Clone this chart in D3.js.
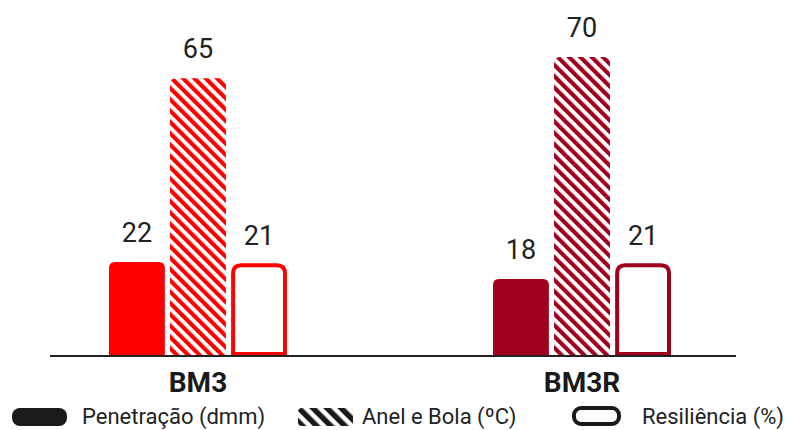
<!DOCTYPE html>
<html><head><meta charset="utf-8">
<script src="https://cdn.jsdelivr.net/npm/d3@7"></script>
<style>html,body{margin:0;padding:0;background:#fff;}svg{display:block;}</style>
</head><body>
<svg id="chart" width="788" height="430"></svg>
<script>
const categories = ["BM3", "BM3R"];
const seriesNames = ["Penetração (dmm)", "Anel e Bola (ºC)", "Resiliência (%)"];
const penetracao = [22, 18];
const anelBola = [65, 70];
const resiliencia = [21, 21];
const groupColors = ["#ff0000", "#a0001e"];

const svg = d3.select("#chart");
const baseY = 356;
const font = "Roboto, 'Noto Sans', sans-serif";

const x0 = d3.scaleBand().domain(categories).range([50, 730]).paddingInner(0.5365).paddingOuter(0.1536);
const x1 = d3.scaleBand().domain([0,1,2]).range([0, x0.bandwidth()]).paddingInner(0.085);
const y = d3.scaleLinear().domain([0, 70]).range([baseY, 57]);

const defs = svg.append("defs");
function hatch(id, color, period, frac) {
  const p = defs.append("pattern").attr("id", id).attr("patternUnits", "userSpaceOnUse")
    .attr("width", period).attr("height", period).attr("patternTransform", "rotate(-45)");
  p.append("rect").attr("width", period).attr("height", period).attr("fill", "#fff");
  p.append("rect").attr("width", period * frac).attr("height", period).attr("fill", color);
}
groupColors.forEach((c, i) => hatch("hatch" + i, c, 8, 0.52));
hatch("hatchLegend", "#1a1a1a", 10, 0.55);

function topRounded(x, yTop, w, h, r) {
  r = Math.min(r, w / 2, h);
  return `M${x},${yTop + h}V${yTop + r}Q${x},${yTop} ${x + r},${yTop}H${x + w - r}Q${x + w},${yTop} ${x + w},${yTop + r}V${yTop + h}Z`;
}

const series = [penetracao, anelBola, resiliencia];
categories.forEach((cat, ci) => {
  const g = svg.append("g");
  const color = groupColors[ci];
  series.forEach((vals, si) => {
    const v = vals[ci];
    const bx = x0(cat) + x1(si);
    const bw = x1.bandwidth();
    const top = y(v);
    if (si === 0) {
      g.append("path").attr("d", topRounded(bx, top, bw, baseY - top, 6)).attr("fill", color);
    } else if (si === 1) {
      g.append("path").attr("d", topRounded(bx, top, bw, baseY - top, 6)).attr("fill", `url(#hatch${ci})`);
    } else {
      const sw = 4;
      g.append("path").attr("d", topRounded(bx + sw / 2, top - 3 + sw / 2, bw - sw, baseY - top + 3 - sw, 8))
        .attr("fill", "#fff").attr("stroke", color).attr("stroke-width", sw);
    }
    g.append("text").attr("x", bx + bw / 2).attr("y", top - (si === 2 ? 21 : 20))
      .attr("text-anchor", "middle").attr("font-family", font).attr("font-size", 27)
      .attr("fill", "#222").text(v);
  });
});

// baseline
svg.append("line").attr("x1", 50).attr("x2", 736).attr("y1", baseY).attr("y2", baseY)
  .attr("stroke", "#222").attr("stroke-width", 1.8);

// category labels
svg.selectAll(".cat").data(categories).join("text")
  .attr("x", d => x0(d) + x0.bandwidth() / 2).attr("y", 392)
  .attr("text-anchor", "middle").attr("font-family", font).attr("font-weight", "bold")
  .attr("font-size", 28).attr("fill", "#1a1a1a").text(d => d);

// legend
const legendX = [12, 298, 572];
const legendTextX = [82, 362, 642];
const lg = svg.append("g");
lg.append("rect").attr("x", legendX[0]).attr("y", 408).attr("width", 55).attr("height", 18).attr("rx", 8).attr("fill", "#1a1a1a");
lg.append("rect").attr("x", legendX[1]).attr("y", 408).attr("width", 55).attr("height", 18).attr("rx", 4).attr("fill", "url(#hatchLegend)");
lg.append("rect").attr("x", legendX[2] + 2).attr("y", 408).attr("width", 45).attr("height", 16).attr("rx", 7)
  .attr("fill", "#fff").attr("stroke", "#1a1a1a").attr("stroke-width", 4);
seriesNames.forEach((n, i) => {
  lg.append("text").attr("x", legendTextX[i]).attr("y", 424).attr("font-family", font)
    .attr("font-size", 22).attr("fill", "#222").text(n);
});
</script>
</body></html>
